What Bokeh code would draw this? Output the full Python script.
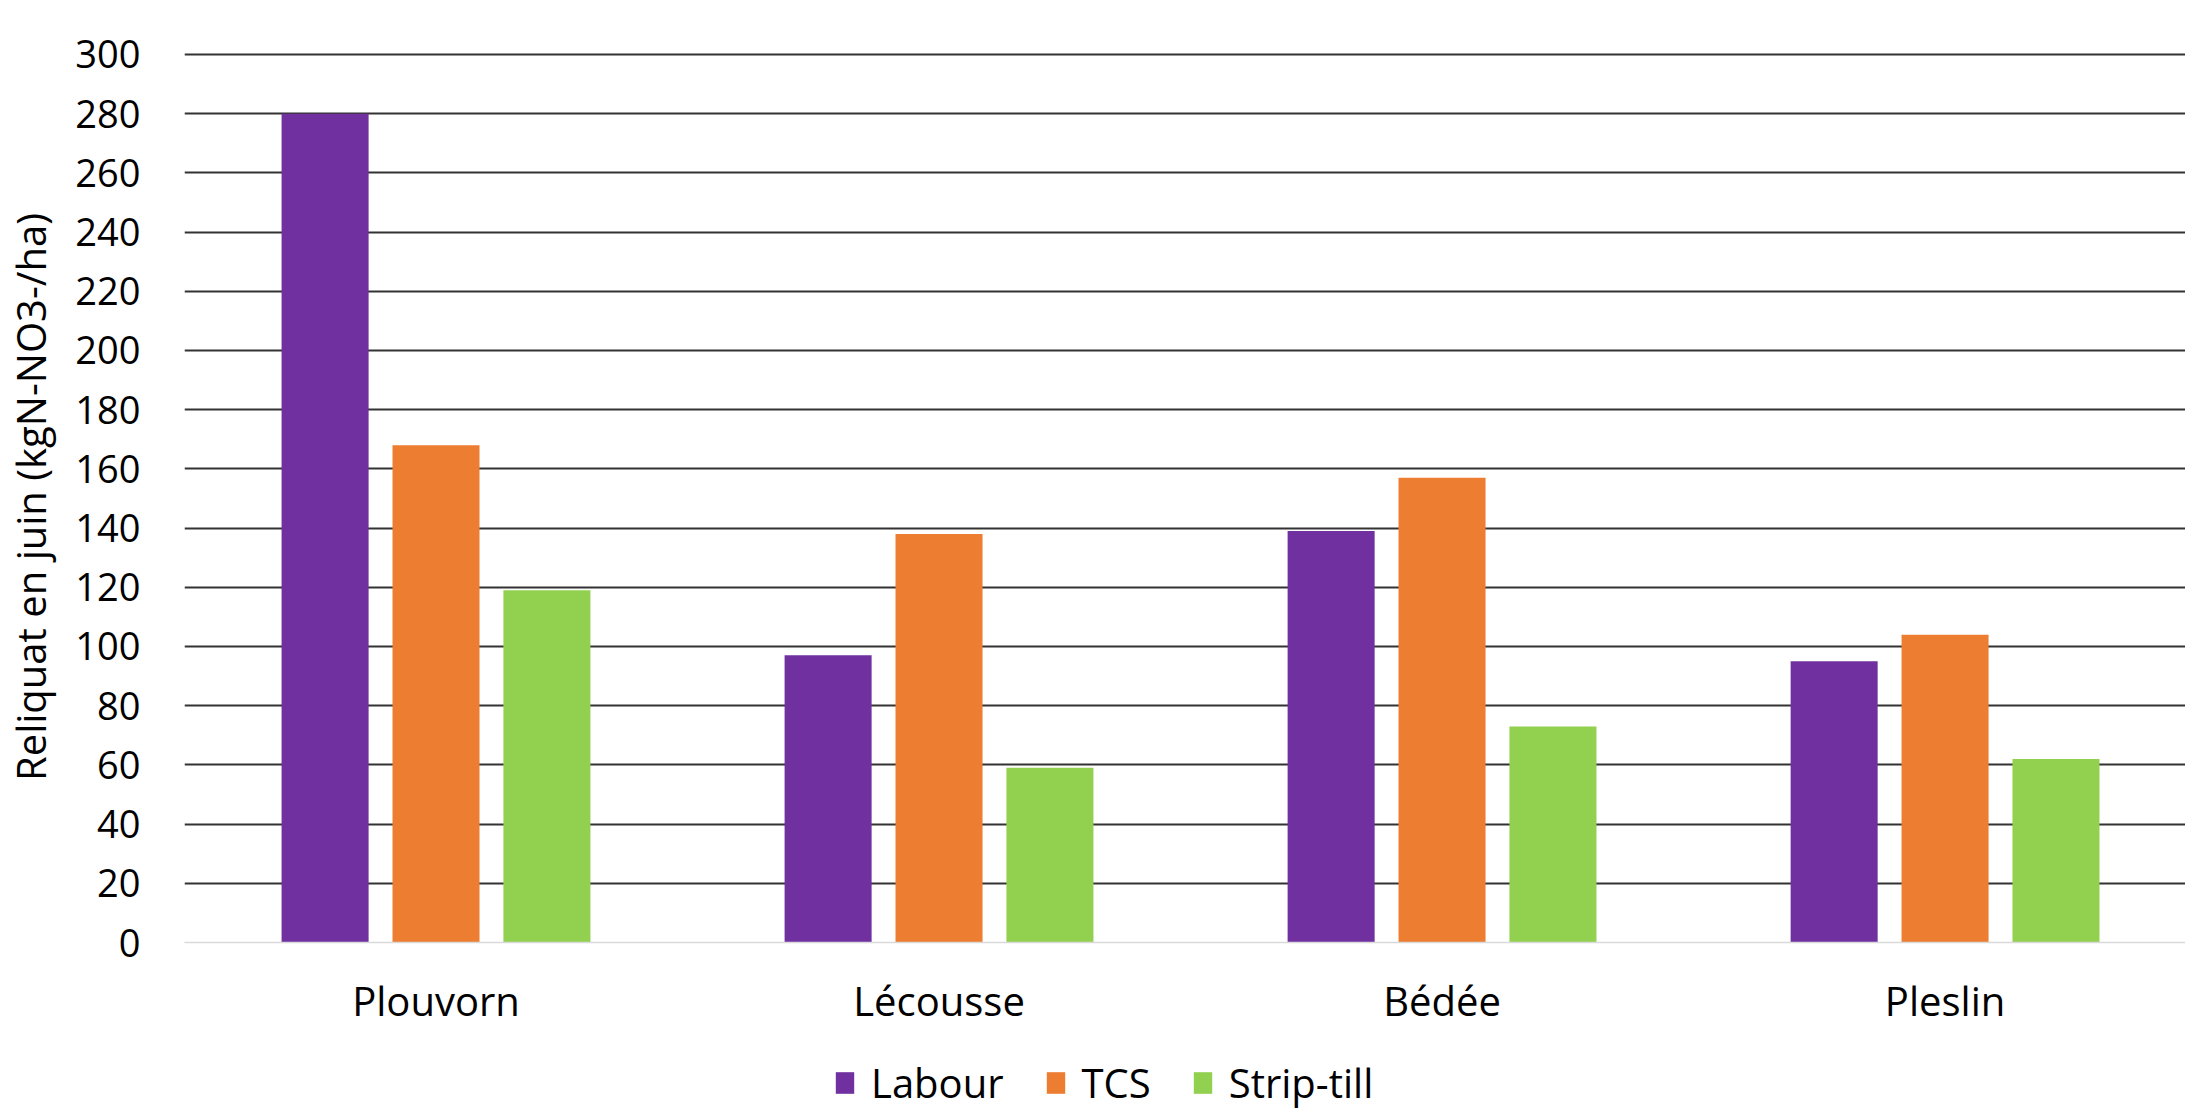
from bokeh.plotting import figure
from bokeh.models import ColumnDataSource, Range1d, FixedTicker, Legend, LegendItem
from bokeh.layouts import column
from bokeh.embed import file_html
from bokeh.resources import INLINE

sites = ["Plouvorn", "Lécousse", "Bédée", "Pleslin"]
series = ["Labour", "TCS", "Strip-till"]
labour = [280, 97, 139, 95]
tcs = [168, 138, 157, 104]
strip_till = [119, 59, 73, 62]
colors = ["#7030A0", "#ED7D31", "#92D050"]
y_ticks = list(range(0, 301, 20))

FONT = "Open Sans"

p = figure(width=2185, height=1040, output_backend="svg", toolbar_location=None,
           x_range=Range1d(-0.5, 3.478), y_range=Range1d(0, 301),
           min_border_left=182, min_border_right=0, min_border_top=51, min_border_bottom=98)
p.outline_line_color = None
p.background_fill_color = "white"
p.border_fill_color = "white"

offsets = [-0.2205, 0.0, 0.2205]
bar_w = 0.173
for vals, off, col, name in zip([labour, tcs, strip_till], offsets, colors, series):
    src = ColumnDataSource(dict(x=[i + off for i in range(len(sites))], top=vals))
    p.vbar(x="x", top="top", bottom=0, width=bar_w, source=src,
           fill_color=col, line_color=None)

# y axis
p.yaxis.ticker = FixedTicker(ticks=y_ticks)
p.yaxis.axis_line_color = None
p.yaxis.major_tick_line_color = None
p.yaxis.minor_tick_line_color = None
p.yaxis.major_tick_out = 0
p.yaxis.major_label_standoff = 44
p.yaxis.major_label_text_font = FONT
p.yaxis.major_label_text_font_size = "38px"
p.yaxis.major_label_text_color = "#000000"
p.yaxis.axis_label = "Reliquat en juin (kgN-NO3-/ha)"
p.yaxis.axis_label_text_font = FONT
p.yaxis.axis_label_text_font_size = "40px"
p.yaxis.axis_label_text_font_style = "normal"
p.yaxis.axis_label_text_color = "#000000"
p.yaxis.axis_label_standoff = 14

# x axis
p.xaxis.ticker = FixedTicker(ticks=list(range(len(sites))))
p.xaxis.major_label_overrides = {i: s for i, s in enumerate(sites)}
p.xaxis.axis_line_color = "#d9d9d9"
p.xaxis.axis_line_width = 1.5
p.xaxis.major_tick_line_color = None
p.xaxis.minor_tick_line_color = None
p.xaxis.major_tick_in = 0
p.xaxis.major_tick_out = 0
p.xaxis.major_label_standoff = 30
p.xaxis.major_label_text_font = FONT
p.xaxis.major_label_text_font_size = "40px"
p.xaxis.major_label_text_color = "#000000"

p.xgrid.grid_line_color = None
p.ygrid.grid_line_color = "#333333"
p.ygrid.grid_line_width = 2
p.ygrid.ticker = FixedTicker(ticks=y_ticks[1:])

# legend strip below the chart (legend swatches only, bars kept out of view)
lg = figure(width=2185, height=70, output_backend="svg", toolbar_location=None,
            x_range=Range1d(0, 1), y_range=Range1d(0, 1),
            x_axis_location=None, y_axis_location=None,
            min_border_left=0, min_border_right=0, min_border_top=0, min_border_bottom=0)
lg.outline_line_color = None
lg.xgrid.grid_line_color = None
lg.ygrid.grid_line_color = None
items = []
for col, name in zip(colors, series):
    r = lg.vbar(x=[5], top=[0], width=0.1, fill_color=col, line_color=None)
    items.append(LegendItem(label=name, renderers=[r]))

legend = Legend(items=items, orientation="horizontal", location=(649, 0),
                label_text_font=FONT, label_text_font_size="40px",
                label_text_color="#000000",
                glyph_width=23, glyph_height=27, label_standoff=15, spacing=40,
                border_line_color=None, background_fill_alpha=0,
                padding=0, margin=0)
lg.add_layout(legend, "center")

layout = column(p, lg, spacing=0)
open("out.html", "w").write(file_html(layout, INLINE))
